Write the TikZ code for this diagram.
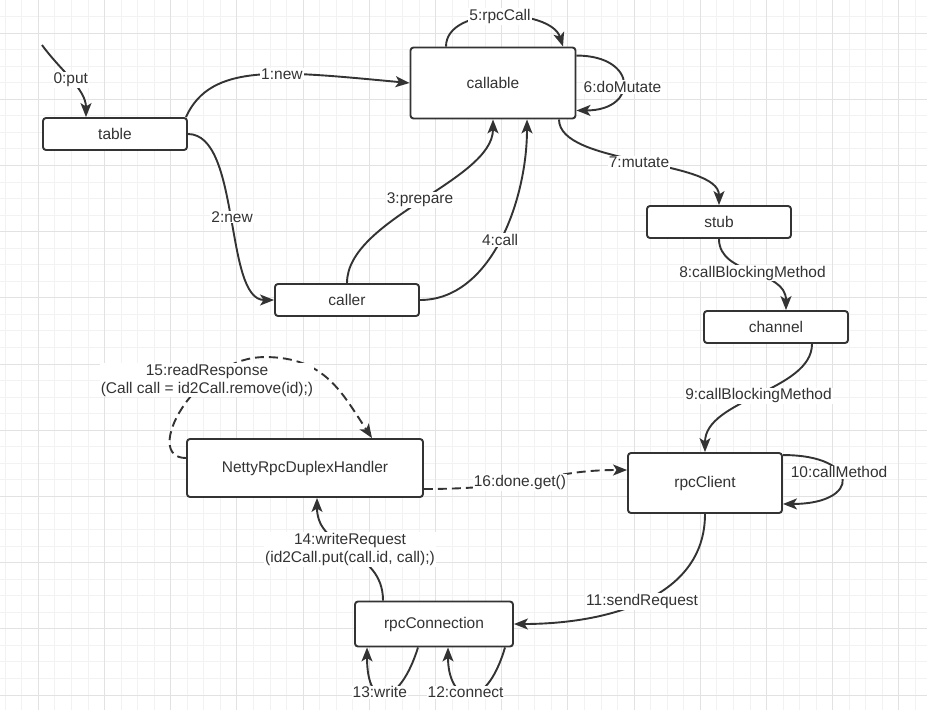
\documentclass[tikz,border=0pt]{standalone}
\usepackage{fontspec}
\setmainfont{Liberation Sans}
\usepackage{tikz}
\usetikzlibrary{arrows.meta}
\definecolor{ink}{HTML}{333333}
\definecolor{gridlo}{HTML}{F2F2F2}
\definecolor{gridhi}{HTML}{E2E2E2}
\tikzset{
  callbox/.style={draw=ink,line width=1.9pt,rounded corners=3pt,fill=white,text=ink,
    font=\fontsize{15.5}{18}\selectfont},
  callarrow/.style={-{Stealth[length=14pt,width=11pt,inset=3.5pt]},line width=1.9pt,draw=ink},
  replyarrow/.style={callarrow,dash pattern=on 9pt off 5pt},
  calllabel/.style={fill=white,text=ink,inner sep=1pt,align=center,font=\fontsize{15.5}{18}\selectfont},
  gridline/.style={line width=0.9pt}
}

\begin{document}
\begin{tikzpicture}[x=1pt,y=-1pt]
\useasboundingbox (0,0) rectangle (927,710);
\fill[white] (0,0) rectangle (927,710);
\foreach \k in {0,...,55} \draw[gridline,gridlo] ({5.2+16.55*\k},0) -- ++(0,710);
\foreach \k in {0,...,42} \draw[gridline,gridlo] (0,{-0.1+16.55*\k}) -- ++(927,0);
\foreach \k in {0,...,13} \draw[gridline,gridhi] ({38.3+66.2*\k},0) -- ++(0,710);
\foreach \k in {0,...,10} \draw[gridline,gridhi] (0,{33+66.2*\k}) -- ++(927,0);

\node[callbox,minimum width=144pt,minimum height=32pt] (table) at (115,134) {table};
\node[callbox,minimum width=165pt,minimum height=71pt] (callable) at (493,83) {callable};
\node[callbox,minimum width=144pt,minimum height=32pt] (caller) at (347,300) {caller};
\node[callbox,minimum width=144pt,minimum height=32pt] (stub) at (719,222) {stub};
\node[callbox,minimum width=144pt,minimum height=32pt] (channel) at (776,327) {channel};
\node[callbox,minimum width=154pt,minimum height=60pt] (client) at (705,483) {rpcClient};
\node[callbox,minimum width=236pt,minimum height=58pt] (handler) at (305,468) {NettyRpcDuplexHandler};
\node[callbox,minimum width=158pt,minimum height=45pt] (conn) at (434,624) {rpcConnection};
\coordinate (put) at (42,45);

\draw[callarrow] (put) .. controls +(18,25) and +(0,-28) .. ([xshift=-29pt]table.north) node[calllabel,pos=.5] {0:put};
\draw[callarrow] ([xshift=-2pt]table.north east) .. controls +(25,-55) and +(-130,-12) .. (callable.west) node[calllabel,pos=.6] {1:new};
\draw[callarrow] (table.east) .. controls +(53,0) and +(-50,0) .. (caller.west) node[calllabel,pos=.5] {2:new};
\draw[callarrow] (caller.north) .. controls +(0,-64) and +(0,61) .. (callable.south) node[calllabel,pos=.5] {3:prepare};
\draw[callarrow] (caller.east) .. controls +(71,0) and +(0,81) .. ([xshift=34pt]callable.south) node[calllabel,pos=.5] {4:call};
\draw[callarrow] ([xshift=-47pt]callable.north) .. controls +(0,-42) and +(-12,-38) .. ([xshift=70pt]callable.north) node[calllabel,pos=.5] {5:rpcCall};
\draw[callarrow] ([yshift=-9pt]callable.north east) .. controls +(62,0) and +(62,0) .. ([yshift=9pt]callable.south east) node[calllabel,pos=.55] {6:doMutate};
\draw[callarrow] ([xshift=66pt]callable.south) .. controls +(0,46) and +(0,-46) .. (stub.north) node[calllabel,pos=.5] {7:mutate};
\draw[callarrow] (stub.south) .. controls +(0,37) and +(0,-41) .. ([xshift=10pt]channel.north) node[calllabel,pos=.5] {8:callBlockingMethod};
\draw[callarrow] ([xshift=36pt]channel.south) .. controls +(0,47) and +(0,-53) .. (client.north) node[calllabel,pos=.5] {9:callBlockingMethod};
\draw[callarrow] ([yshift=-3pt]client.north east) .. controls +(78,0) and +(78,0) .. ([yshift=10pt]client.south east) node[calllabel,pos=.4] {10:callMethod};
\draw[callarrow] (client.south) .. controls +(0,87) and +(87,0) .. (conn.east) node[calllabel,pos=.5] {11:sendRequest};
\draw[callarrow] ([xshift=71pt]conn.south) .. controls +(-20,68) and +(0,55) .. ([xshift=14pt]conn.south) node[calllabel,pos=.55] {12:connect};
\draw[callarrow] ([xshift=-16pt]conn.south) .. controls +(-18,58) and +(0,65) .. ([xshift=-67pt]conn.south) node[calllabel,pos=.6] {13:write};
\draw[callarrow] ([xshift=-51pt]conn.north) .. controls +(0,-52) and +(0,53) .. ([xshift=12pt]handler.south) node[calllabel,pos=.5] {14:writeRequest\\(id2Call.put(call.id, call);)};
\draw[replyarrow] ([yshift=10pt]handler.west) .. controls +(-45,0) and +(-70,0) .. ([xshift=-40pt,yshift=81pt]handler.north) node[calllabel,pos=.69] {15:readResponse\\(Call call = id2Call.remove(id);)} .. controls +(60,0) and +(-30,-45) .. ([xshift=67pt]handler.north);
\draw[replyarrow] ([yshift=-21pt]handler.east) .. controls +(110,0) and +(-80,0) .. ([yshift=13pt]client.west) node[calllabel,pos=.4] {16:done.get()};
\end{tikzpicture}
\end{document}
